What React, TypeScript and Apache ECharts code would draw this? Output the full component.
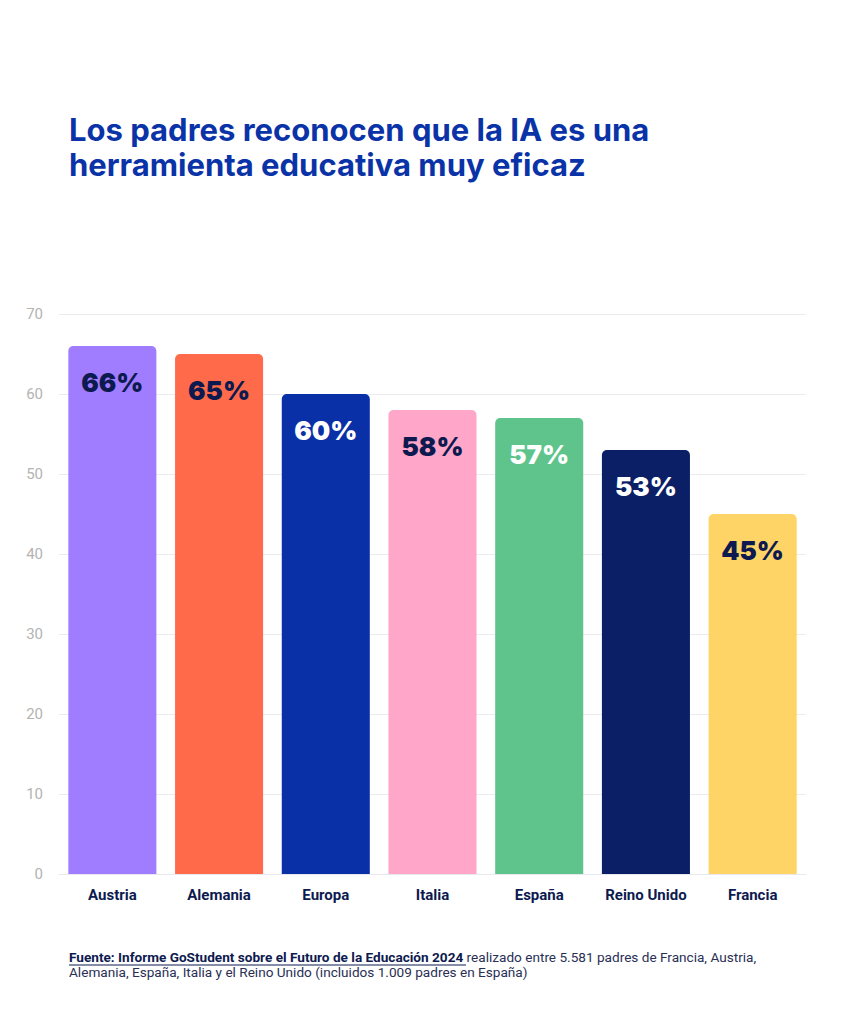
import React, { useEffect, useRef } from "react";
import * as echarts from "echarts";

const categories = ["Austria", "Alemania", "Europa", "Italia", "España", "Reino Unido", "Francia"];
const values = [66, 65, 60, 58, 57, 53, 45];
const barColors = ["#a07cff", "#ff6b4a", "#0a30a8", "#ffa6c9", "#5ec48c", "#0b1f66", "#ffd466"];
const labelColors = ["#0d1a4f", "#0d1a4f", "#ffffff", "#0d1a4f", "#ffffff", "#ffffff", "#0d1a4f"];
const yTicks = { min: 0, max: 70, interval: 10 };
const titleLines = ["Los padres reconocen que la IA es una", "herramienta educativa muy eficaz"];
const sourceBold = "Fuente: Informe GoStudent sobre el Futuro de la Educación 2024";
const sourceRest1 = " realizado entre 5.581 padres de Francia, Austria,";
const sourceRest2 = "Alemania, España, Italia y el Reino Unido (incluidos 1.009 padres en España)";

export default function App() {
  const ref = useRef<HTMLDivElement>(null);
  useEffect(() => {
    document.body.style.margin = "0";
    const chart = echarts.init(ref.current!, null, { renderer: "svg" });
    chart.setOption({
      animation: false,
      backgroundColor: "#ffffff",
      title: {
        text: titleLines.join("\n"),
        left: 69,
        top: 112,
        padding: 0,
        textStyle: {
          fontFamily: "Inter",
          fontWeight: 700,
          fontSize: 31,
          lineHeight: 35,
          color: "#0a33a8",
        },
      },
      grid: { left: 59, right: 39, top: 314, bottom: 150 },
      xAxis: {
        type: "category",
        data: categories,
        axisTick: { show: false },
        axisLine: { show: true, lineStyle: { color: "#e8e8ee", width: 1 } },
        axisLabel: {
          interval: 0,
          margin: 13,
          fontFamily: "Roboto",
          fontWeight: 700,
          fontSize: 15,
          color: "#0d1a4f",
        },
      },
      yAxis: {
        type: "value",
        min: yTicks.min,
        max: yTicks.max,
        interval: yTicks.interval,
        axisLine: { show: false },
        axisTick: { show: false },
        splitLine: { lineStyle: { color: "#ececf0", width: 1 } },
        axisLabel: {
          margin: 16,
          fontFamily: "Roboto",
          fontSize: 15,
          color: "#b3b3b3",
        },
      },
      series: [
        {
          type: "bar",
          barCategoryGap: "17.5%",
          data: values.map((v, i) => ({
            value: v,
            itemStyle: { color: barColors[i], borderRadius: [5, 5, 0, 0] },
            label: { color: labelColors[i] },
          })),
          label: {
            show: true,
            position: "insideTop",
            distance: 23,
            formatter: "{c}%",
            fontFamily: "Inter",
            fontWeight: 900,
            fontSize: 26,
          },
        },
      ],
      graphic: [
        {
          type: "text",
          left: 69,
          top: 950,
          style: {
            text: "{b|" + sourceBold + "}{r|" + sourceRest1 + "}\n{r|" + sourceRest2 + "}",
            rich: {
              b: { fontFamily: "Roboto", fontWeight: 700, fontSize: 13.6, lineHeight: 15, fill: "#0d1a4f" },
              r: { fontFamily: "Roboto", fontWeight: 400, fontSize: 13.6, lineHeight: 15, fill: "#2a2f55" },
            },
          },
        },
        {
          type: "line",
          shape: { x1: 69, y1: 965, x2: 466, y2: 965 },
          style: { stroke: "#0d1a4f", lineWidth: 1 },
        },
      ],
    });
    return () => chart.dispose();
  }, []);
  return <div ref={ref} style={{ width: 845, height: 1024 }} />;
}
